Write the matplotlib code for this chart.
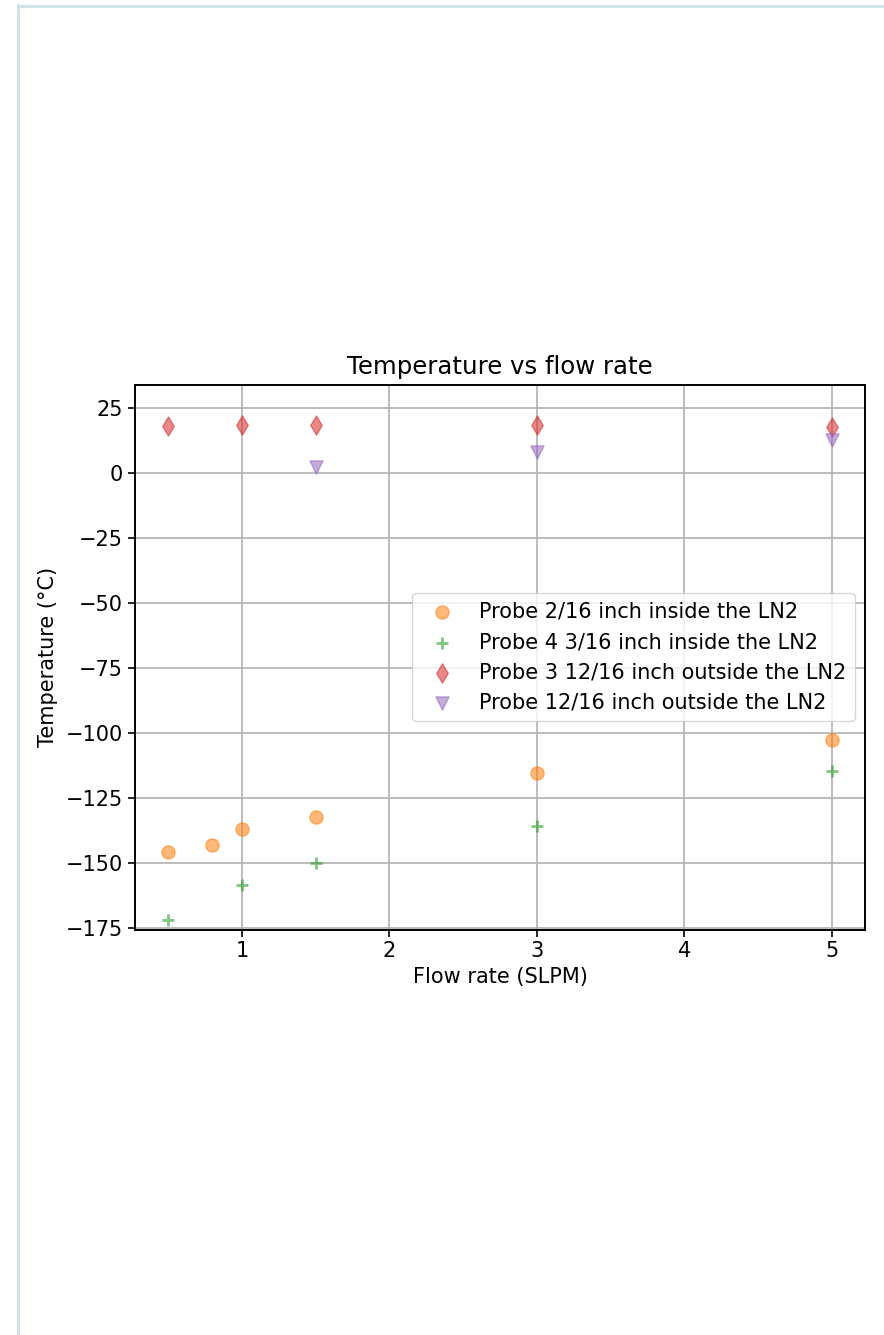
import matplotlib
matplotlib.use('Agg')
import matplotlib.pyplot as plt
from matplotlib.lines import Line2D

# flow rate (SLPM) and temperature readings (degC) per probe
flow_p1 = [0.5, 0.8, 1.0, 1.5, 3.0, 5.0]
temp_p1 = [-145.8, -143.1, -136.9, -132.3, -115.4, -102.7]

flow_p2 = [0.5, 1.0, 1.5, 3.0, 5.0]
temp_p2 = [-171.9, -158.5, -150.0, -135.8, -114.6]

flow_p3 = [0.5, 1.0, 1.5, 3.0, 5.0]
temp_p3 = [18.1, 18.5, 18.5, 18.5, 17.7]

flow_p4 = [1.5, 3.0, 5.0]
temp_p4 = [2.3, 8.1, 12.7]

labels = ['Probe 2/16 inch inside the LN2',
          'Probe 4 3/16 inch inside the LN2',
          'Probe 3 12/16 inch outside the LN2',
          'Probe 12/16 inch outside the LN2']

fs = 15
W, H = 884, 1335
fig = plt.figure(figsize=(W / 100, H / 100), dpi=100)

# light frame of the notebook cell
fig.add_artist(Line2D([18 / W, 18 / W], [0, 1 - 5 / H], color='#d0e4e8', linewidth=2.2))
fig.add_artist(Line2D([18 / W, 1], [1 - 5.5 / H, 1 - 5.5 / H], color='#d0e4e8', linewidth=2.2))

ax = fig.add_axes([135 / W, (H - 929.5) / H, (865 - 135) / W, (929.5 - 385) / H])

ax.scatter(flow_p1, temp_p1, s=90, marker='o', color='tab:orange', alpha=0.55, label=labels[0])
ax.scatter(flow_p2, temp_p2, s=85, marker='+', color='tab:green', alpha=0.6, linewidths=2, label=labels[1])
ax.scatter(flow_p3, temp_p3, s=95, marker='d', color='tab:red', alpha=0.55, label=labels[2])
ax.scatter(flow_p4, temp_p4, s=90, marker='v', color='tab:purple', alpha=0.55, label=labels[3])

ax.set_ylim(-175.6, 33.9)
ax.set_yticks([25, 0, -25, -50, -75, -100, -125, -150, -175])
ax.set_xticks([1, 2, 3, 4, 5])
ax.grid(True, color='#b0b0b0', linewidth=1.2)
ax.set_axisbelow(True)
for sp in ax.spines.values():
    sp.set_linewidth(1.4)
ax.tick_params(labelsize=fs, length=5, width=1.2)

ax.set_title('Temperature vs flow rate', fontsize=17.6, pad=8)
ax.set_xlabel('Flow rate (SLPM)', fontsize=fs)
ax.set_ylabel('Temperature (°C)', fontsize=fs, labelpad=6)

ax.legend(loc='center right', fontsize=fs, framealpha=0.8)

fig.savefig('out.png', dpi=100)
